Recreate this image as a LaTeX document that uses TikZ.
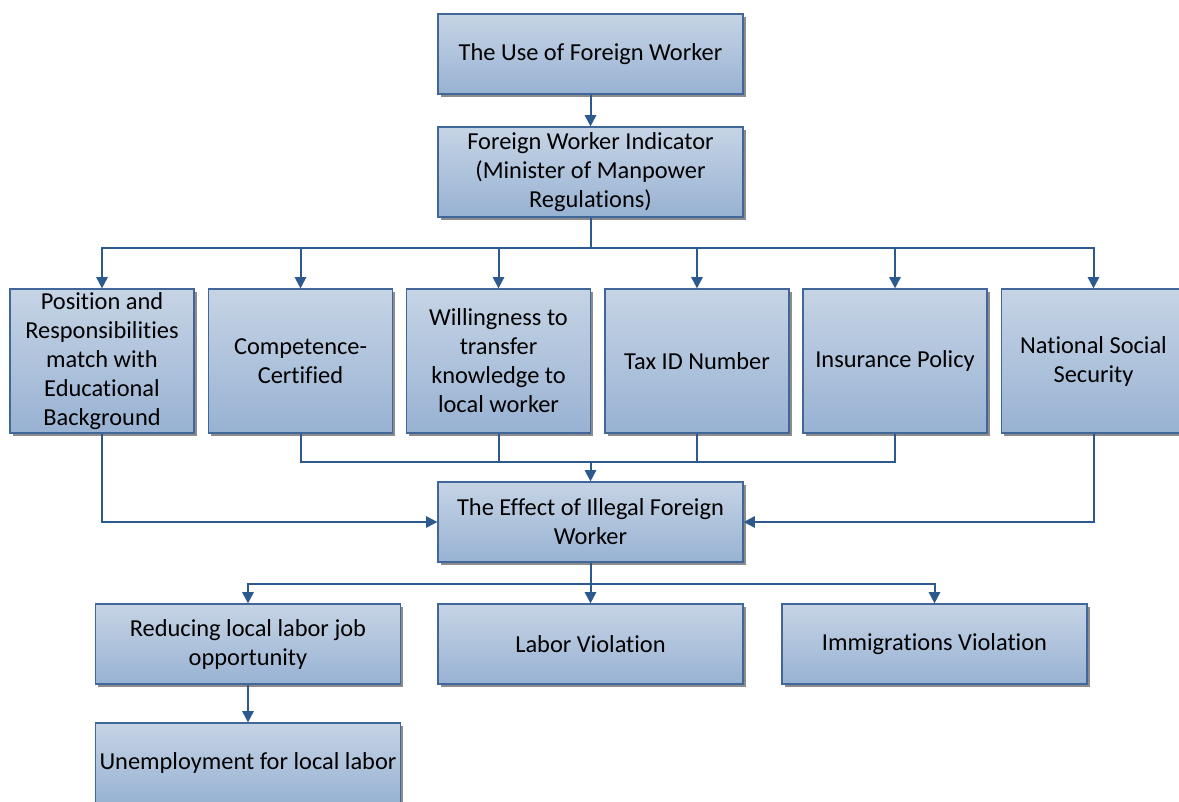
\documentclass[tikz,border=0pt]{standalone}
\usepackage{fontspec}
\setmainfont{Carlito}[Ligatures=NoCommon]
\usetikzlibrary{arrows.meta,shadows}
\definecolor{boxtop}{HTML}{C6D4E5}
\definecolor{boxbottom}{HTML}{98B2D3}
\definecolor{boxline}{HTML}{41679A}
\definecolor{link}{HTML}{2C5A8E}
\tikzstyle{block}=[draw=boxline,line width=0.9pt,top color=boxtop,bottom color=boxbottom,drop shadow={shadow xshift=2.2pt,shadow yshift=-2.2pt,fill=black!45,opacity=1},align=center,inner sep=0pt,font=\fontsize{18.3}{21.75}\selectfont]
\tikzstyle{wide}=[block,minimum width=228.75pt,minimum height=60pt]
\tikzstyle{tall}=[block,minimum width=138pt,minimum height=108pt]
\tikzstyle{link}=[draw=link,line width=1.5pt]

\begin{document}
\begin{tikzpicture}[x=0.75pt,y=-0.75pt,>={Triangle[width=8.5pt,length=8.5pt]}]
\useasboundingbox (0,0) rectangle (1179,801);

\node[wide] (use) at (590.5,54) {The Use of Foreign Worker};
\node[wide,minimum height=67.5pt] (indicator) at (590.5,172) {Foreign Worker Indicator\\(Minister of Manpower\\Regulations)};

% indicators
\node[tall] (position) at (102,361) {Position and\\Responsibilities\\match with\\Educational\\Background};
\node[tall] (competence) at (300.5,361) {Competence-\\Certified};
\node[tall] (willingness) at (498.5,361) {Willingness to\\transfer\\knowledge to\\local worker};
\node[tall] (tax) at (697,361) {Tax ID Number};
\node[tall] (insurance) at (895,361) {Insurance Policy};
\node[tall] (social) at (1093.5,361) {National Social\\Security};

\node[wide] (effect) at (590.5,522) {The Effect of Illegal Foreign\\Worker};

% effects
\node[wide] (reducing) at (248,644) {Reducing local labor job\\opportunity};
\node[wide] (labor) at (590.5,644) {Labor Violation};
\node[wide] (immigration) at (934.5,644) {Immigrations Violation};
\node[wide] (unemployment) at (248,763) {Unemployment for local labor};

\coordinate (split) at (590.5,248);
\coordinate (merge) at (590.5,462);
\coordinate (fork) at (590.5,584);

\draw[link,->] (use)--(indicator);
\draw[link] (indicator)--(split);
\foreach \n in {position,competence,willingness,tax,insurance,social}
  \draw[link,->] (split) -| (\n);

\foreach \n in {competence,willingness,tax,insurance}
  \draw[link] (\n) |- (merge);
\draw[link,->] (merge)--(effect);
\draw[link,->] (position) |- (effect);
\draw[link,->] (social) |- (effect);

\draw[link] (effect)--(fork);
\draw[link,->] (fork) -| (reducing);
\draw[link,->] (fork)--(labor);
\draw[link,->] (fork) -| (immigration);
\draw[link,->] (reducing)--(unemployment);
\end{tikzpicture}
\end{document}
